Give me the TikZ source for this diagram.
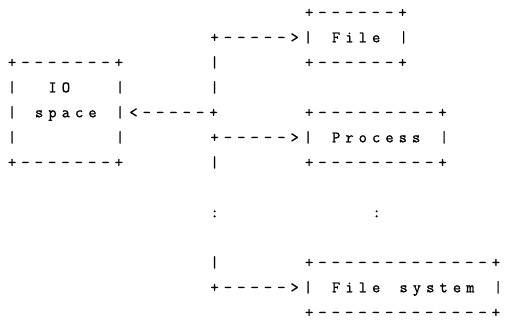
\documentclass[tikz,border=0pt]{standalone}
\usepackage{fontspec}
\setmonofont[LetterSpace=31.9,FakeBold=1.2]{Latin Modern Mono}
\begin{document}
\begin{tikzpicture}[>=latex,line join=bevel,
  txt/.style={anchor=base west,inner sep=0pt,font=\fontsize{16bp}{18bp}\ttfamily}]
\useasboundingbox (0bp,0bp) rectangle (506bp,-321bp);
%%
\node (node_0) at (304.8bp,-17.3bp) [txt] {+------+};
  \node (node_1) at (210.3bp,-42.3bp) [txt] {+----->|};
  \node (node_2) at (331.8bp,-42.3bp) [txt] {File};
  \node (node_3) at (399.3bp,-42.3bp) [txt] {|};
  \node (node_4) at (7.8bp,-67.3bp) [txt] {+-------+};
  \node (node_5) at (210.3bp,-67.3bp) [txt] {|};
  \node (node_6) at (304.8bp,-67.3bp) [txt] {+------+};
  \node (node_7) at (7.8bp,-92.3bp) [txt] {|};
  \node (node_8) at (48.3bp,-92.3bp) [txt] {IO};
  \node (node_9) at (115.8bp,-92.3bp) [txt] {|};
  \node (node_10) at (210.3bp,-92.3bp) [txt] {|};
  \node (node_11) at (7.8bp,-117.3bp) [txt] {|};
  \node (node_12) at (34.8bp,-117.3bp) [txt] {space};
  \node (node_13) at (115.8bp,-117.3bp) [txt] {|<-----+};
  \node (node_14) at (304.8bp,-117.3bp) [txt] {+---------+};
  \node (node_15) at (7.8bp,-142.3bp) [txt] {|};
  \node (node_16) at (115.8bp,-142.3bp) [txt] {|};
  \node (node_17) at (210.3bp,-142.3bp) [txt] {+----->|};
  \node (node_18) at (331.8bp,-142.3bp) [txt] {Process};
  \node (node_19) at (439.8bp,-142.3bp) [txt] {|};
  \node (node_20) at (7.8bp,-167.3bp) [txt] {+-------+};
  \node (node_21) at (210.3bp,-167.3bp) [txt] {|};
  \node (node_22) at (304.8bp,-167.3bp) [txt] {+---------+};
  \node (node_23) at (210.3bp,-217.3bp) [txt] {:};
  \node (node_24) at (372.3bp,-217.3bp) [txt] {:};
  \node (node_25) at (210.3bp,-267.3bp) [txt] {|};
  \node (node_26) at (304.8bp,-267.3bp) [txt] {+-------------+};
  \node (node_27) at (210.3bp,-292.3bp) [txt] {+----->|};
  \node (node_28) at (331.8bp,-292.3bp) [txt] {File};
  \node (node_29) at (399.3bp,-292.3bp) [txt] {system};
  \node (node_30) at (493.8bp,-292.3bp) [txt] {|};
  \node (node_31) at (304.8bp,-317.3bp) [txt] {+-------------+};
%
\end{tikzpicture}
\end{document}
